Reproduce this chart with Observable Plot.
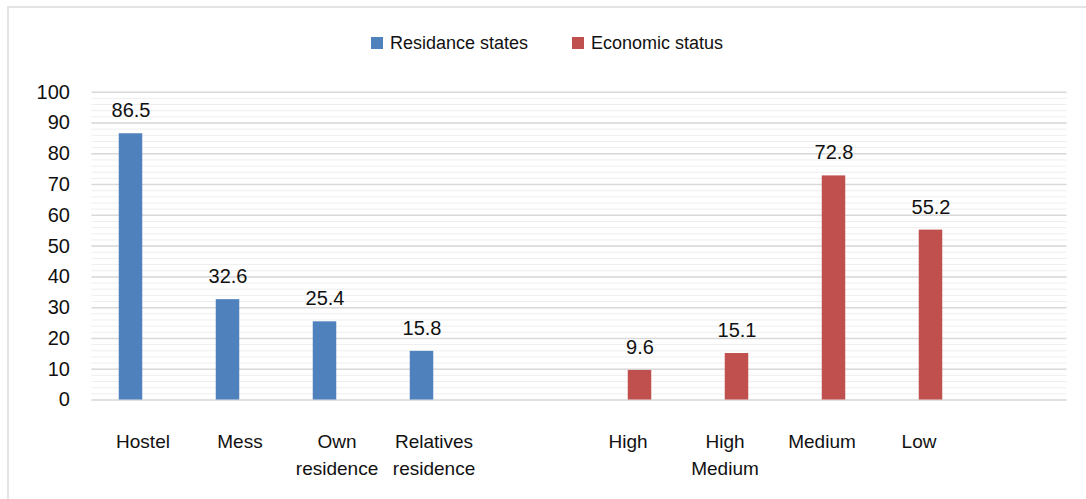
<!DOCTYPE html>
<html>
<head>
<meta charset="utf-8">
<script src="https://cdn.jsdelivr.net/npm/d3@7"></script>
<script src="https://cdn.jsdelivr.net/npm/@observablehq/plot@0.6"></script>
<style>
  html, body { margin: 0; padding: 0; background: #fff; overflow: hidden; }
  #wrap { position: relative; width: 1086px; height: 499px; font-family: "Liberation Sans", Arial, sans-serif; }
  #frame { position: absolute; left: 7px; top: 6px; width: 1200px; height: 600px;
           border-top: 2px solid #e4e4e4; border-left: 2px solid #e4e4e4; pointer-events: none; }
  #legend { height: 60px; box-sizing: border-box; padding-top: 31px; padding-left: 8px;
            display: flex; justify-content: center; }
  .item { display: flex; align-items: center; height: 24px; font-size: 18px; color: #111; }
  .item + .item { margin-left: 44px; }
  .sw { width: 12px; height: 12px; margin-right: 7px; }
  #chart svg { display: block; }
</style>
</head>
<body>
<div id="wrap">
  <div id="legend"></div>
  <div id="chart"></div>
  <div id="frame"></div>
</div>
<script>
// Series names and colours
const seriesNames = ["Residance states", "Economic status"];
const seriesColors = ["#4f81bd", "#c0504d"];

// Residence categories and percentages
const residenceCats = ["Hostel", "Mess", "Own\nresidence", "Relatives\nresidence"];
const residenceValues = [86.5, 32.6, 25.4, 15.8];

// Economic status categories and percentages
const economicCats = ["High", "High\nMedium", "Medium", "Low"];
const economicValues = [9.6, 15.1, 72.8, 55.2];

// Category slots along the x axis (two empty slots keep the spacing)
const categories = [...residenceCats, " ", ...economicCats, "  "];

// Y axis ticks
const yTicks = [0, 10, 20, 30, 40, 50, 60, 70, 80, 90, 100];
const yMinorTicks = d3.range(0, 101, 2);

const residenceRows = residenceCats.map((c, i) => ({cat: c, value: residenceValues[i]}));
const economicRows = economicCats.map((c, i) => ({cat: c, value: economicValues[i]}));

// Legend
const legend = document.getElementById("legend");
seriesNames.forEach((name, i) => {
  const item = document.createElement("div");
  item.className = "item";
  const sw = document.createElement("span");
  sw.className = "sw";
  sw.style.background = seriesColors[i];
  const label = document.createElement("span");
  label.textContent = name;
  item.append(sw, label);
  legend.append(item);
});

const fmt = v => v.toFixed(1);

const chart = Plot.plot({
  width: 1086,
  height: 439,
  marginLeft: 91.4,
  marginRight: 19.5,
  marginTop: 31.7,
  marginBottom: 99.5,
  style: {fontFamily: "Liberation Sans, Arial, sans-serif", color: "#111", background: "transparent"},
  x: {domain: categories, padding: 0, axis: null},
  y: {domain: [0, 100], axis: null},
  marks: [
    Plot.ruleY(yMinorTicks, {stroke: "#eeeeee", strokeWidth: 1}),
    Plot.ruleY(yTicks, {stroke: "#d9d9d9", strokeWidth: 1.5}),
    Plot.axisY({ticks: yTicks, tickSize: 0, tickPadding: 22, fontSize: 20, tickFormat: d => d, label: null}),
    Plot.barY(residenceRows, {x: "cat", y: "value", fill: seriesColors[0], insetLeft: 24.75, insetRight: 48.75}),
    Plot.barY(economicRows, {x: "cat", y: "value", fill: seriesColors[1], insetLeft: 48.75, insetRight: 24.75}),
    Plot.text(residenceRows, {x: "cat", y: "value", text: d => fmt(d.value), dx: -12, dy: -23, fontSize: 20, fill: "#111"}),
    Plot.text(economicRows, {x: "cat", y: "value", text: d => fmt(d.value), dx: 12, dy: -23, fontSize: 20, fill: "#111"}),
    Plot.text(categories.filter(c => c.trim() !== ""), {
      x: d => d, text: d => d, frameAnchor: "bottom", lineAnchor: "top",
      dy: 28.5, fontSize: 19, lineHeight: 1.42, fill: "#111"
    })
  ]
});
document.getElementById("chart").append(chart);
</script>
</body>
</html>
